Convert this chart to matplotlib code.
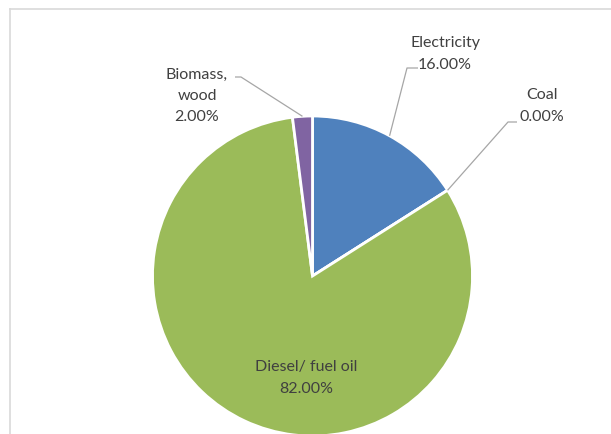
import numpy as np
import matplotlib
matplotlib.use("Agg")
import matplotlib.pyplot as plt
from matplotlib.lines import Line2D

categories = ["Electricity", "Coal", "Diesel/ fuel oil", "Biomass,\nwood"]
shares = [16.0, 0.0, 82.0, 2.0]
colors = ["#4F81BD", "#C0504D", "#9BBB59", "#8064A2"]

W, H = 611, 435
fig = plt.figure(figsize=(W / 100, H / 100), dpi=100)
ax = fig.add_axes([0, 0, 1, 1])

cx, cy, R = 312.5, H - 277, 160
wedges, _ = ax.pie(shares, colors=colors, startangle=90, counterclock=False,
                   center=(cx, cy), radius=R, frame=True,
                   wedgeprops=dict(edgecolor="white", linewidth=2))
ax.set_xlim(0, W)
ax.set_ylim(0, H)
ax.set_aspect("equal")
ax.axis("off")

# chart-area border (top and left edges visible; the rest runs off the canvas)
border = "#D9D9D9"
fig.add_artist(Line2D([10 / W, 1.0], [1 - 10 / H, 1 - 10 / H], transform=fig.transFigure, color=border, lw=1.2))
fig.add_artist(Line2D([10 / W, 10 / W], [0, 1 - 10 / H], transform=fig.transFigure, color=border, lw=1.2))

font = dict(family=["Lato", "DejaVu Sans"], fontsize=11.5, color="#404040")
total = sum(shares)

def edge_point(i):
    w = wedges[i]
    mid = np.deg2rad((w.theta1 + w.theta2) / 2)
    return cx + R * np.cos(mid), cy + R * np.sin(mid)

def label_text(i):
    return f"{categories[i]}\n{shares[i] / total * 100:.2f}%"

# outside labels with leader lines: (text centre, elbow start, elbow end)
outside = {
    0: ((445, H - 54), (418, H - 69), (407, H - 69)),
    1: ((542, H - 106), (517, H - 123), (508, H - 123)),
    3: ((197, H - 96), (235, H - 78), (241, H - 78)),
}
for i, (txt_xy, p_a, p_b) in outside.items():
    ex, ey = edge_point(i)
    ax.text(txt_xy[0], txt_xy[1], label_text(i), ha="center", va="center",
            linespacing=1.68, **font)
    ax.plot([p_a[0], p_b[0], ex], [p_a[1], p_b[1], ey], color="#A6A6A6", lw=0.9,
            solid_capstyle="butt")

# label placed inside the large slice
ax.text(306, H - 378, label_text(2), ha="center", va="center", linespacing=1.68, **font)

fig.savefig("out.png", dpi=100, facecolor="white")
